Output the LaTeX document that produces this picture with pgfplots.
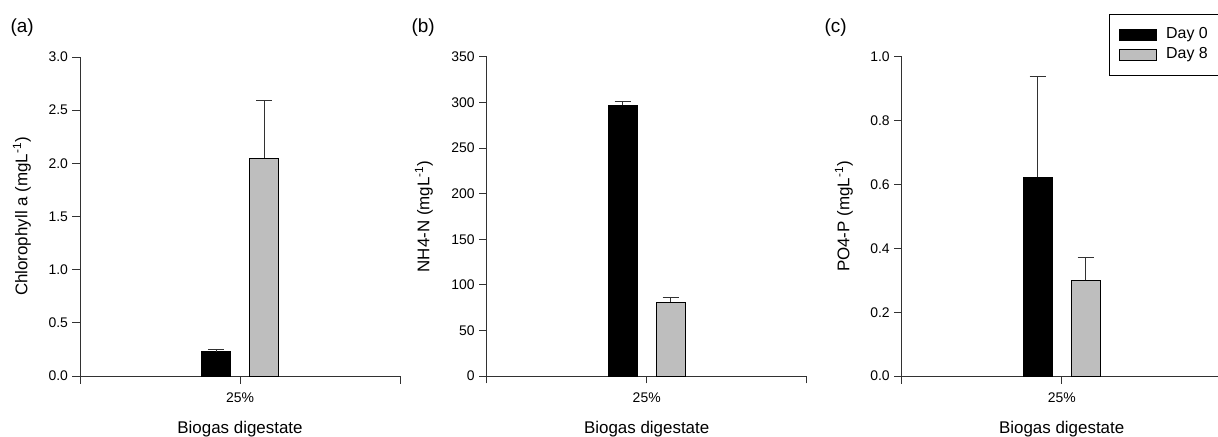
\documentclass[border=0pt]{standalone}
\usepackage{fontspec}
\setmainfont{Liberation Sans}
\usepackage{pgfplots}
\pgfplotsset{compat=1.18}
\definecolor{barg}{RGB}{190,190,190}
\definecolor{axc}{RGB}{50,50,50}
\pgfplotsset{
  panel/.style={
    scale only axis, width=320bp, height=319bp,
    axis lines*=left,
    axis line style={axc, line width=1bp},
    tick align=outside, major tick length=7.5bp,
    tick style={axc, line width=1bp},
    xmin=-1, xmax=1,
    xtick={-1,0,1}, xticklabels={,25\%,},
    ymin=0,
    ybar=19bp, bar width=29bp,
    ticklabel style={font=\fontsize{14}{16}\selectfont},
    /pgf/number format/assume math mode=true,
    xticklabel style={anchor=base, yshift=-18.5bp},
    yticklabel style={xshift=-1bp},
    xlabel style={at={(axis description cs:0.5,0)}, anchor=base, yshift=-57bp, font=\fontsize{17}{19}\selectfont},
    clip=false,
    xlabel={Biogas digestate},
  },
  ylab/.style={ylabel style={at={(axis description cs:0,0.5)}, anchor=center, yshift=#1, font=\fontsize{17}{19}\selectfont}},
  d0/.style={fill=black, draw=black, line width=1bp,
    error bars/.cd, y dir=plus, y explicit,
    error bar style={line width=1bp, axc},
    error mark options={rotate=90, mark size=8bp, line width=1bp, axc}},
  d8/.style={fill=barg, draw=black, line width=1bp,
    error bars/.cd, y dir=plus, y explicit,
    error bar style={line width=1bp, axc},
    error mark options={rotate=90, mark size=8bp, line width=1bp, axc}},
}
\begin{document}
\begin{tikzpicture}
\useasboundingbox (0,0) rectangle (1218bp,437bp);
% (a)
\begin{axis}[panel, at={(80bp,61bp)}, anchor=south west,
  ymax=3, ytick={0,0.5,...,3.0},
  yticklabel style={/pgf/number format/.cd, fixed, fixed zerofill, precision=1},
  ylab=58bp,
  ylabel={Chlorophyll a (mgL\textsuperscript{-1})}]
\addplot[d0] coordinates {(0,0.23) +- (0,0.02)};
\addplot[d8] coordinates {(0,2.05) +- (0,0.54)};
\end{axis}
% (b)
\begin{axis}[panel, at={(486.7bp,61bp)}, anchor=south west,
  ymax=350, ytick={0,50,...,350},
  ylab=62.7bp,
  ylabel={NH4-N (mgL\textsuperscript{-1})}]
\addplot[d0] coordinates {(0,297) +- (0,4)};
\addplot[d8] coordinates {(0,81) +- (0,5)};
\end{axis}
% (c)
\begin{axis}[panel, at={(901.7bp,61bp)}, anchor=south west,
  ymax=1, ytick={0,0.2,...,1.0},
  yticklabel style={/pgf/number format/.cd, fixed, fixed zerofill, precision=1},
  ylab=57.7bp,
  ylabel={PO4-P (mgL\textsuperscript{-1})},
  legend style={at={(0.648,1.135)}, anchor=north west, draw=black, line width=1bp,
    font=\fontsize{16}{18}\selectfont, inner xsep=9bp, inner ysep=10.5bp, row sep=0bp,
    nodes={inner sep=2bp, text height=12bp, text depth=4bp},
    /tikz/every odd column/.append style={column sep=7bp}},
  legend cell align=left,
  legend image code/.code={\draw[#1, line width=1bp] (0bp,-5.7bp) rectangle (37.6bp,5.7bp);}]
\addplot[d0] coordinates {(0,0.623) +- (0,0.315)};
\addplot[d8] coordinates {(0,0.30) +- (0,0.072)};
\legend{Day 0\hspace*{8bp}, Day 8\hspace*{8bp}}
\end{axis}
\node[anchor=base west, font=\fontsize{19}{21}\selectfont] at (7bp,404bp) {(a)};
\node[anchor=base west, font=\fontsize{19}{21}\selectfont] at (408bp,404bp) {(b)};
\node[anchor=base west, font=\fontsize{19}{21}\selectfont] at (821bp,404bp) {(c)};
\end{tikzpicture}
\end{document}
